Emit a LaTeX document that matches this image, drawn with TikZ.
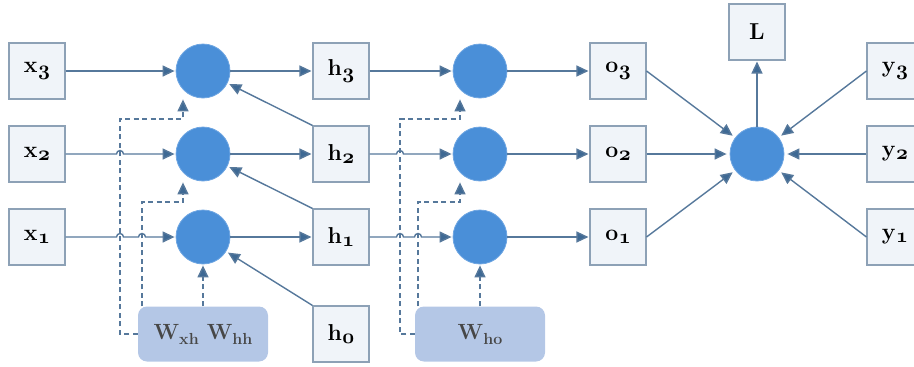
\documentclass[tikz,border=0pt]{standalone}
\usetikzlibrary{arrows.meta}
\definecolor{linec}{HTML}{56789B}
\definecolor{tipc}{HTML}{3E6994}
\definecolor{boxfill}{HTML}{F0F4F9}
\definecolor{boxline}{HTML}{8DA1B6}
\definecolor{neuronc}{HTML}{4A8FD8}
\definecolor{neuronedge}{HTML}{6FA6E2}
\definecolor{wfill}{HTML}{B4C7E6}
\definecolor{wtext}{HTML}{474747}
% old-style digits (bold) for subscripts
\newcommand\osn[1]{{\usefont{OML}{cmm}{b}{it}#1}}
\newcommand\vlab[2]{\textbf{#1}\kern0.5pt\raisebox{-3pt}{\fontsize{20}{24}\selectfont\osn{#2}}}
\newcommand\wsub[1]{\raisebox{-5pt}{\fontsize{16}{18}\selectfont\textbf{#1}}}
\begin{document}
\begin{tikzpicture}[x=1pt,y=-1pt,
  box/.style={draw=boxline,line width=1.1pt,fill=boxfill,minimum width=56pt,minimum height=56pt,inner sep=0pt,font=\fontsize{23}{27}\selectfont},
  neuron/.style={circle,fill=neuronc,draw=neuronedge,line width=0.8pt,minimum size=54pt,inner sep=0pt},
  wbox/.style={fill=wfill,rounded corners=9pt,minimum width=130pt,minimum height=55pt,inner sep=0pt,text=wtext,font=\fontsize{22}{25}\selectfont},
  conn/.style={draw=linec,line width=1.4pt,-{Triangle[length=12pt,width=11pt,fill=tipc]},shorten >=1pt},
  dconn/.style={conn,dash pattern=on 5pt off 3.5pt}]
\useasboundingbox (0,0) rectangle (914,367);

% input, hidden, output and target boxes
\node[box] (x3) at (37,71) {\vlab{x}{3}};
\node[box] (x2) at (37,154) {\vlab{x}{2}};
\node[box] (x1) at (37,237) {\vlab{x}{1}};
\node[box] (h3) at (341,71) {\vlab{h}{3}};
\node[box] (h2) at (341,154) {\vlab{h}{2}};
\node[box] (h1) at (341,237) {\vlab{h}{1}};
\node[box] (h0) at (341,334) {\vlab{h}{0}};
\node[box] (o3) at (618,71) {\vlab{o}{3}};
\node[box] (o2) at (618,154) {\vlab{o}{2}};
\node[box] (o1) at (618,237) {\vlab{o}{1}};
\node[box] (y3) at (895,71) {\vlab{y}{3}};
\node[box] (y2) at (895,154) {\vlab{y}{2}};
\node[box] (y1) at (895,237) {\vlab{y}{1}};
\node[box] (L) at (757,32) {\textbf{L}};

% neurons
\node[neuron] (c3) at (203,71) {};
\node[neuron] (c2) at (203,154) {};
\node[neuron] (c1) at (203,237) {};
\node[neuron] (d3) at (480,71) {};
\node[neuron] (d2) at (480,154) {};
\node[neuron] (d1) at (480,237) {};
\node[neuron] (cR) at (757,154) {};

% weight boxes
\node[wbox] (wA) at (203,334) {\textbf{W}\wsub{xh}\hspace{8pt}\textbf{W}\wsub{hh}};
\node[wbox] (wB) at (480,334) {\textbf{W}\wsub{ho}};

% dashed feed lines: vertical rails and turning points
\coordinate (ra) at (120,0);
\coordinate (rb) at (142,0);
\coordinate (ta) at (183,0);
\coordinate (rc) at (400,0);
\coordinate (rd) at (418,0);
\coordinate (tb) at (460,0);
\coordinate (k3) at (0,119);
\coordinate (k2) at (0,202);

\draw[dconn] (wA.west) -- (ra |- wA.west) -- (ra |- k3) -- (ta |- k3) -- (ta |- c3.south);
\draw[dconn] (rb |- wA.north) -- (rb |- k2) -- (ta |- k2) -- (ta |- c2.south);
\draw[dconn] (wA.north) -- (c1.south);
\draw[dconn] (wB.west) -- (rc |- wB.west) -- (rc |- k3) -- (tb |- k3) -- (tb |- d3.south);
\draw[dconn] (rd |- wB.north) -- (rd |- k2) -- (tb |- k2) -- (tb |- d2.south);
\draw[dconn] (wB.north) -- (d1.south);

% inputs into the first layer, hopping over the dashed rails
\draw[conn] (x3.east) -- (c3.west);
\draw[conn] (x2.east) -- ([xshift=-3.5pt]ra |- x2) arc[start angle=180,end angle=0,radius=3.5pt] -- (c2.west);
\draw[conn] (x1.east) -- ([xshift=-3.5pt]ra |- x1) arc[start angle=180,end angle=0,radius=3.5pt]
  -- ([xshift=-3.5pt]rb |- x1) arc[start angle=180,end angle=0,radius=3.5pt] -- (c1.west);

\draw[conn] (c3.east) -- (h3.west);
\draw[conn] (c2.east) -- (h2.west);
\draw[conn] (c1.east) -- (h1.west);

% recurrent links
\draw[conn,shorten >=2pt] (h2.north west) -- (c3);
\draw[conn,shorten >=2pt] (h1.north west) -- (c2);
\draw[conn,shorten >=2pt] (h0.north west) -- (c1);

% hidden states into the output layer
\draw[conn] (h3.east) -- (d3.west);
\draw[conn] (h2.east) -- ([xshift=-3.5pt]rc |- h2) arc[start angle=180,end angle=0,radius=3.5pt] -- (d2.west);
\draw[conn] (h1.east) -- ([xshift=-3.5pt]rc |- h1) arc[start angle=180,end angle=0,radius=3.5pt]
  -- ([xshift=-3.5pt]rd |- h1) arc[start angle=180,end angle=0,radius=3.5pt] -- (d1.west);

\draw[conn] (d3.east) -- (o3.west);
\draw[conn] (d2.east) -- (o2.west);
\draw[conn] (d1.east) -- (o1.west);

% loss node
\draw[conn,shorten >=3pt] (o3.east) -- (cR);
\draw[conn,shorten >=3pt] (o2.east) -- (cR);
\draw[conn,shorten >=3pt] (o1.east) -- (cR);
\draw[conn,shorten >=3pt] (y3.west) -- (cR);
\draw[conn,shorten >=3pt] (y2.west) -- (cR);
\draw[conn,shorten >=3pt] (y1.west) -- (cR);
\draw[conn] (cR.north) -- (L.south);
\end{tikzpicture}
\end{document}
